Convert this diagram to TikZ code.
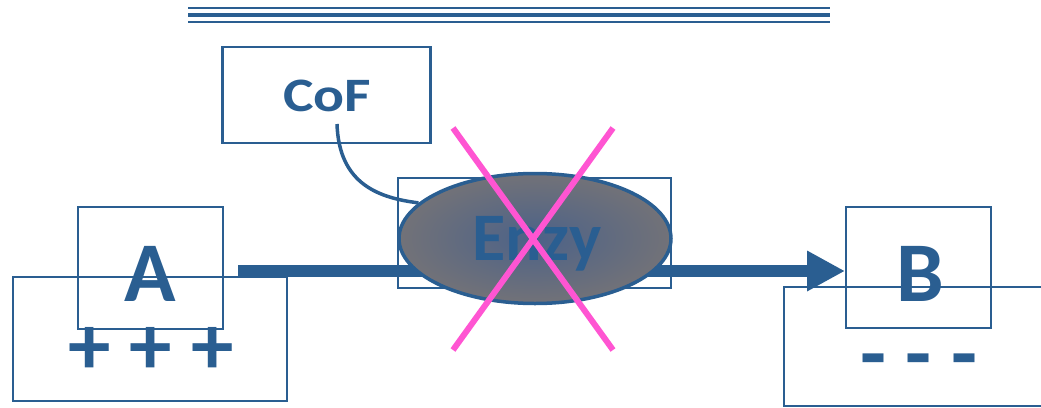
\documentclass[tikz,border=0pt]{standalone}
\usepackage{fontspec}
\setmainfont{Carlito}
\usetikzlibrary{shapes.geometric,arrows.meta}
\definecolor{dblue}{RGB}{42,94,145}
\definecolor{xpink}{RGB}{255,85,210}
\definecolor{egray}{RGB}{114,114,120}
\definecolor{eblue}{RGB}{76,98,136}
\begin{document}
\begin{tikzpicture}[x=1pt,y=-1pt,
  box/.style={draw=dblue,line width=2.2pt,rectangle,inner sep=0pt},
  bigtxt/.style={text=dblue,font=\bfseries\fontsize{85}{90}\selectfont,inner sep=0pt},
  midtxt/.style={text=dblue,font=\bfseries\fontsize{68}{72}\selectfont,inner sep=0pt},
  smalltxt/.style={text=dblue,font=\bfseries\fontsize{48}{50}\selectfont,inner sep=0pt,xscale=1.2},
  rule/.style={draw=dblue},
  xline/.style={draw=xpink,line width=6pt},
  flow/.style={draw=dblue,line width=12pt,-{Triangle[length=38pt,width=38pt]}},
  link/.style={draw=dblue,line width=3.5pt}]
\clip (0,0) rectangle (1041,407);
% top rules
\coordinate (r1a) at (188,7.8);   \coordinate (r1b) at (830,7.8);
\coordinate (r2a) at (188,15);  \coordinate (r2b) at (830,15);
\coordinate (r3a) at (188,22);\coordinate (r3b) at (830,22);
\draw[rule,line width=2pt] (r1a) -- (r1b);
\draw[rule,line width=4.6pt] (r2a) -- (r2b);
\draw[rule,line width=2pt] (r3a) -- (r3b);
% CoF
\node[box,minimum width=208pt,minimum height=96pt] (cof) at (326.5,95) {};
\node[smalltxt,anchor=base] (coft) at (327,111.7) {CoF};
% A
\node[box,minimum width=274pt,minimum height=124pt] (abig) at (150,339) {};
\node[box,minimum width=145pt,minimum height=122pt] (asmall) at (150.5,268) {};
\node[bigtxt,anchor=base] (at) at (150,301.7) {A};
\node[bigtxt] (aplus) at (151,351) {+ + +};
% B
\node[box,minimum width=280pt,minimum height=119pt,anchor=north west] (bbig) at (783,286) {};
\node[box,minimum width=145pt,minimum height=121pt] (bsmall) at (918.5,267.5) {};
\node[bigtxt,anchor=base] (bt) at (920,301.7) {B};
\node[bigtxt] (bminus) at (919,368) {- - -};
% flow arrow
\coordinate (fstart) at (238,271);
\coordinate (fend) at (845,271);
\draw[flow] (fstart) -- (fend);
% enzyme
\node[box,minimum width=273pt,minimum height=110pt] (erect) at (534.5,233) {};
\coordinate (cofout) at (337,124);
\node[ellipse,draw=dblue,line width=3.5pt,inner color=eblue,outer color=egray,minimum width=272pt,minimum height=130pt,inner sep=0pt] (enz) at (535,238.5) {};
\draw[link] (cofout) .. controls (339,185) and (380,198) .. (enz.163);
\node[midtxt,anchor=base] (enzt) at (537,260) {Enzy};
% cross
\coordinate (x1a) at (453,128); \coordinate (x1b) at (613,350);
\coordinate (x2a) at (613,128); \coordinate (x2b) at (453,350);
\draw[xline] (x1a) -- (x1b);
\draw[xline] (x2a) -- (x2b);
\end{tikzpicture}
\end{document}
